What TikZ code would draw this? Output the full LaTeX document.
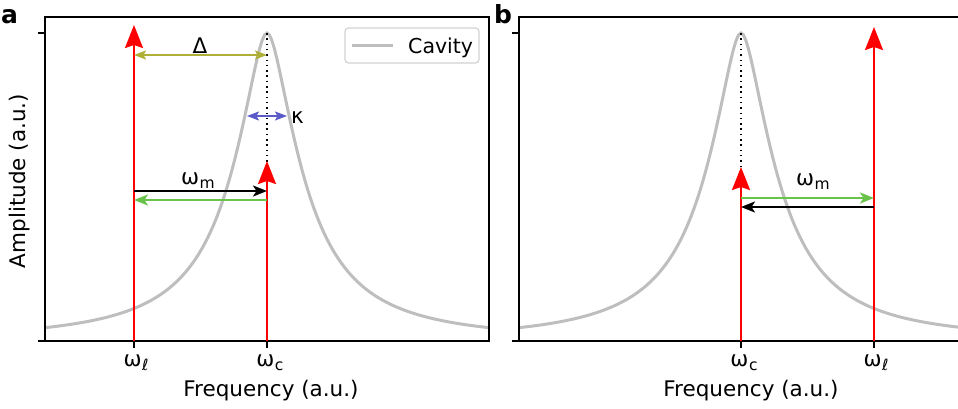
\documentclass[tikz,border=0pt]{standalone}
\usepackage{fontspec}
\setmainfont{DejaVu Sans}
\usetikzlibrary{arrows.meta,calc,positioning}
\definecolor{cavgray}{RGB}{190,190,190}
\definecolor{detolive}{RGB}{175,175,55}
\definecolor{kapblue}{RGB}{90,90,200}
\definecolor{mgreen}{RGB}{105,195,75}
\tikzset {
  >=Stealth,
  every node/.style={font=\fontsize{21.5}{25}\selectfont, inner sep=0pt},
  spine/.style={line width=1.5pt},
  tone/.style={red, line width=2.2pt, -{Stealth[length=23pt,width=18pt,inset=3pt]}},
  gap/.style={line width=1.8pt, {Stealth[length=12pt,width=9pt,inset=2.5pt]}-{Stealth[length=12pt,width=9pt,inset=2.5pt]}},
  sideband/.style={line width=2.2pt, -{Stealth[length=14pt,width=11pt,inset=3.5pt]}},
  cavline/.style={cavgray, line width=3pt},
  centreline/.style={line width=1.5pt, dash pattern=on 1.5pt off 3.8pt},
}
\newcommand\wsub[1]{ω\kern0.5pt\raisebox{-4.5pt}{\fontsize{15.5}{16}\selectfont #1}}

\begin{document}
\begin{tikzpicture}[x=1pt, y=-1pt,
  declare function={cav(\u)=1/(1+(sqrt(\u*\u+0.0064)-0.08)/0.9+(\u/0.5)^2);}]
  \useasboundingbox (0,0) rectangle (958,408);

  % panel a
  \draw[cavline] plot[domain=45:489, samples=181] (\x, {341-308*cav((\x-267)/100)});
  \draw[spine] (45,17) rectangle (489,341);
  \draw[spine] (45,33) -- (38,33) (45,341) -- (38,341);
  \draw[spine] (134,341) -- (134,348) (267,341) -- (267,348);
  \coordinate (wla) at (134,341);
  \coordinate (wca) at (267,341);
  \coordinate (pka) at (267,33);
  \coordinate (tipla) at (134,25);
  \coordinate (tipca) at (267,161);
  \draw[centreline] (pka) -- (wca);
  \draw[tone] (wla) -- (tipla);
  \draw[tone] (wca) -- (tipca);
  \coordinate (dela) at (134,55);
  \coordinate (delb) at (267,55);
  \draw[gap, detolive] (dela) -- (delb);
  \node[anchor=base] (dellbl) at (200,53) {Δ};
  \coordinate (kapa) at (247,116);
  \coordinate (kapb) at (287,116);
  \draw[gap, kapblue] (kapa) -- (kapb);
  \node[anchor=base west] (kaplbl) at (291,123) {κ};
  \coordinate (upa) at (134,191);
  \coordinate (upb) at (267,191);
  \coordinate (dna) at (267,200);
  \coordinate (dnb) at (134,200);
  \draw[sideband, mgreen] (dna) -- (dnb);
  \draw[sideband, black] (upa) -- (upb);
  \node[anchor=base] (wmlbla) at (198,184) {\wsub{m}};
  \draw[gray!35, line width=1.2pt, rounded corners=3.5pt, fill=white] (345,28) rectangle (479,63);
  \coordinate (lega) at (352,45);
  \coordinate (legb) at (393,45);
  \draw[cavline] (lega) -- (legb);
  \node[anchor=base west, font=\fontsize{20.5}{24}\selectfont] (legtxt) at (408,53) {Cavity};
  \node[anchor=base] (tickla) at (136,366) {\wsub{ℓ}};
  \node[anchor=base] (tickca) at (270,366) {\wsub{c}};
  \node[anchor=base] (xlbla) at (271,396) {Frequency (a.u.)};
  \node[anchor=base, rotate=90] (ylbl) at (25,181) {Amplitude (a.u.)};
  \node[anchor=base west, font=\fontsize{25}{28}\selectfont\bfseries] (pa) at (1,23) {a};

  % panel b
  \draw[cavline] plot[domain=519:958, samples=181] (\x, {341-308*cav((\x-741)/100)});
  \draw[spine] (958,17) -- (519,17) -- (519,341) -- (958,341);
  \draw[spine] (519,33) -- (512,33) (519,341) -- (512,341);
  \draw[spine] (741,341) -- (741,348) (874,341) -- (874,348);
  \coordinate (wcb) at (741,341);
  \coordinate (wlb) at (874,341);
  \coordinate (pkb) at (741,33);
  \coordinate (tipcb) at (741,167);
  \coordinate (tiplb) at (874,27);
  \draw[centreline] (pkb) -- (wcb);
  \draw[tone] (wcb) -- (tipcb);
  \draw[tone] (wlb) -- (tiplb);
  \coordinate (upc) at (741,198);
  \coordinate (upd) at (874,198);
  \coordinate (dnc) at (874,207);
  \coordinate (dnd) at (741,207);
  \draw[sideband, black] (dnc) -- (dnd);
  \draw[sideband, mgreen] (upc) -- (upd);
  \node[anchor=base] (wmlblb) at (813,185) {\wsub{m}};
  \node[anchor=base] (tickcb) at (744,366) {\wsub{c}};
  \node[anchor=base] (ticklb) at (876,366) {\wsub{ℓ}};
  \node[anchor=base] (xlblb) at (751,396) {Frequency (a.u.)};
  \node[anchor=base west, font=\fontsize{25}{28}\selectfont\bfseries] (pb) at (494,23) {b};
\end{tikzpicture}
\end{document}
